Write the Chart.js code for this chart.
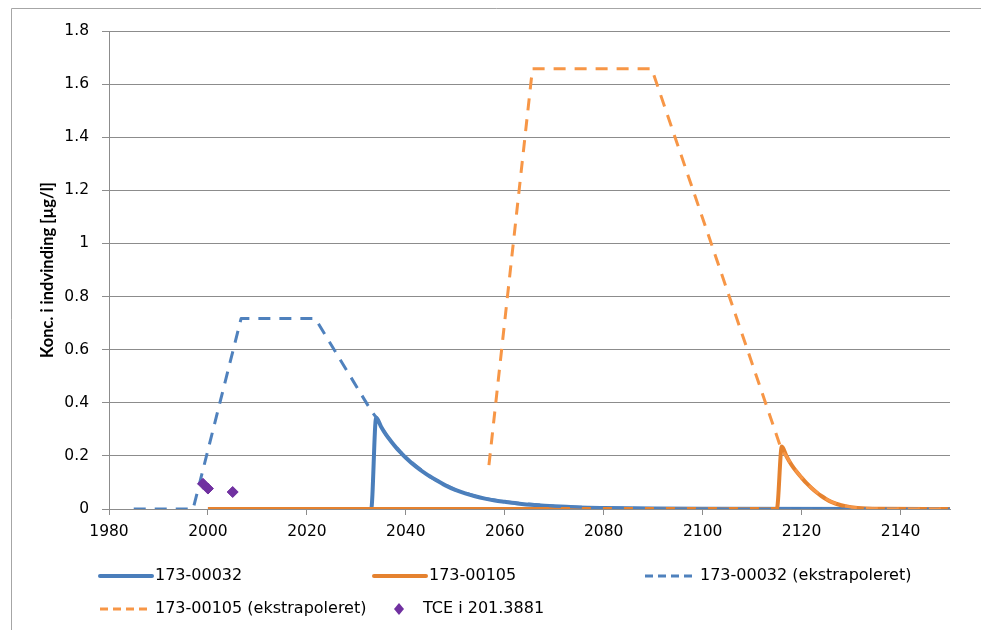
<!DOCTYPE html>
<html>
<head>
<meta charset="utf-8">
<script src="https://cdn.jsdelivr.net/npm/chart.js@4.4.1/dist/chart.umd.min.js"></script>
<style>
  html, body { margin: 0; padding: 0; background: #fff; }
  #wrap { position: relative; width: 981px; height: 630px; }
</style>
</head>
<body>
<div id="wrap"><canvas id="konc" width="981" height="630"></canvas></div>
<script>
// 173-00032 (modelled)
const blueYears = [2000, 2033, 2034, 2035, 2036, 2037, 2038, 2039, 2040, 2042, 2044, 2046, 2048, 2050, 2052, 2054, 2056, 2058, 2060, 2063, 2066, 2070, 2075, 2080, 2090, 2100, 2150];
const blueValues = [0, 0, 0.345, 0.31, 0.28, 0.255, 0.232, 0.212, 0.193, 0.16, 0.133, 0.11, 0.089, 0.072, 0.059, 0.048, 0.039, 0.032, 0.027, 0.02, 0.015, 0.01, 0.006, 0.004, 0.0015, 0.0005, 0];

// 173-00105 (modelled)
const orangeYears = [2000, 2115, 2116, 2117, 2118, 2119, 2120, 2121, 2122, 2123, 2124, 2125, 2126, 2128, 2130, 2133, 2136, 2150];
const orangeValues = [0, 0, 0.235, 0.197, 0.165, 0.14, 0.118, 0.097, 0.079, 0.063, 0.049, 0.037, 0.027, 0.014, 0.007, 0.002, 0.0005, 0];

// 173-00032 (ekstrapoleret)
const blueExtYears = [1985, 1997, 2006.7, 2021.7, 2033, 2034, 2036, 2038, 2040, 2045, 2050, 2055, 2060, 2070, 2080, 2090, 2100, 2150];
const blueExtValues = [0, 0, 0.717, 0.717, 0.37, 0.345, 0.28, 0.232, 0.193, 0.12, 0.072, 0.043, 0.027, 0.01, 0.004, 0.0015, 0.0005, 0];

// 173-00105 (ekstrapoleret)
const orangeExtYears = [2056.8, 2065.6, 2089.7, 2116, 2117, 2118, 2120, 2122, 2124, 2126, 2128, 2130, 2133, 2136, 2150];
const orangeExtValues = [0.165, 1.658, 1.658, 0.22, 0.197, 0.165, 0.118, 0.079, 0.049, 0.027, 0.014, 0.007, 0.002, 0.0005, 0];

// TCE i 201.3881 (measured)
const tceYears = [1999, 2000, 2005];
const tceValues = [0.095, 0.077, 0.064];

const labels = ["173-00032", "173-00105", "173-00032 (ekstrapoleret)", "173-00105 (ekstrapoleret)", "TCE i 201.3881"];
const xTicks = [1980, 2000, 2020, 2040, 2060, 2080, 2100, 2120, 2140];
const yTicks = [0, 0.2, 0.4, 0.6, 0.8, 1, 1.2, 1.4, 1.6, 1.8];

const toPoints = (xs, ys) => xs.map((x, i) => ({ x: x, y: ys[i] }));

// legend drawn in fixed columns like the original
const legendSlots = [
    { x: 98, y: 576 }, { x: 372, y: 576 }, { x: 643, y: 576 },
    { x: 98, y: 609 }, { x: 372, y: 609 }
];

const framePlugin = {
    id: "frame",
    beforeDraw(chart) {
        const ctx = chart.ctx;
        ctx.save();
        ctx.strokeStyle = "#a6a6a6";
        ctx.lineWidth = 1;
        ctx.beginPath();
        ctx.moveTo(11.5, 640);
        ctx.lineTo(11.5, 8.5);
        ctx.lineTo(990, 8.5);
        ctx.stroke();
        ctx.restore();
    }
};

const legendPlugin = {
    id: "fixedLegend",
    afterDraw(chart) {
        const ctx = chart.ctx;
        ctx.save();
        ctx.font = "16px 'DejaVu Sans'";
        ctx.textBaseline = "middle";
        chart.data.datasets.forEach((ds, i) => {
            const s = legendSlots[i];
            if (ds.showLine === false) {
                ctx.fillStyle = ds.pointBackgroundColor;
                ctx.beginPath();
                ctx.moveTo(s.x + 27, s.y - 6);
                ctx.lineTo(s.x + 32, s.y);
                ctx.lineTo(s.x + 27, s.y + 6);
                ctx.lineTo(s.x + 22, s.y);
                ctx.closePath();
                ctx.fill();
                ctx.fillStyle = "#000";
                ctx.fillText(ds.label, s.x + 51, s.y);
            } else {
                ctx.strokeStyle = ds.borderColor;
                ctx.lineWidth = ds.borderWidth;
                ctx.setLineDash(ds.borderDash ? [8, 5] : []);
                ctx.lineCap = ds.borderDash ? "butt" : "round";
                ctx.beginPath();
                ctx.moveTo(s.x + 2, s.y);
                ctx.lineTo(s.x + 54, s.y);
                ctx.stroke();
                ctx.setLineDash([]);
                ctx.fillStyle = "#000";
                ctx.fillText(ds.label, s.x + 57, s.y);
            }
        });
        ctx.restore();
    }
};

new Chart(document.getElementById("konc"), {
    type: "line",
    data: {
        datasets: [
            {
                label: labels[0],
                data: toPoints(blueYears, blueValues),
                borderColor: "#4a7ebb",
                borderWidth: 4,
                pointRadius: 0,
                cubicInterpolationMode: "monotone",
                order: 4
            },
            {
                label: labels[1],
                data: toPoints(orangeYears, orangeValues),
                borderColor: "#e5822f",
                borderWidth: 4,
                pointRadius: 0,
                cubicInterpolationMode: "monotone",
                order: 3
            },
            {
                label: labels[2],
                data: toPoints(blueExtYears, blueExtValues),
                borderColor: "#4f81bd",
                borderWidth: 3,
                borderDash: [12, 9],
                pointRadius: 0,
                order: 2
            },
            {
                label: labels[3],
                data: toPoints(orangeExtYears, orangeExtValues),
                borderColor: "#f79646",
                borderWidth: 3,
                borderDash: [12, 9],
                pointRadius: 0,
                order: 1
            },
            {
                label: labels[4],
                data: toPoints(tceYears, tceValues),
                showLine: false,
                pointStyle: "rectRot",
                pointRadius: 5.5,
                pointBackgroundColor: "#7030a0",
                pointBorderColor: "#7030a0",
                borderColor: "#7030a0",
                order: 0
            }
        ]
    },
    options: {
        responsive: false,
        animation: false,
        events: [],
        layout: {
            padding: { left: 12, top: 31, right: 31, bottom: 81 }
        },
        elements: {
            line: { tension: 0, borderCapStyle: "butt", borderJoinStyle: "round" }
        },
        scales: {
            x: {
                type: "linear",
                min: 1980,
                max: 2150,
                afterBuildTicks: scale => {
                    scale.ticks = xTicks.map(v => ({ value: v }));
                },
                afterFit: scale => { scale.height = 40; },
                ticks: {
                    color: "#000",
                    padding: 8,
                    maxRotation: 0,
                    autoSkip: false,
                    font: { family: "'DejaVu Sans'", size: 15.5 },
                    callback: v => String(Math.round(v))
                },
                grid: {
                    drawOnChartArea: false,
                    color: "#8c8c8c",
                    tickLength: 6
                },
                border: { color: "#8c8c8c", width: 1 }
            },
            y: {
                min: 0,
                max: 1.8,
                afterBuildTicks: scale => {
                    scale.ticks = yTicks.map(v => ({ value: v }));
                },
                afterFit: scale => { scale.width = 97; },
                ticks: {
                    color: "#000",
                    padding: 13,
                    autoSkip: false,
                    font: { family: "'DejaVu Sans'", size: 15.5 },
                    callback: v => String(+v.toFixed(1))
                },
                grid: {
                    color: "#8c8c8c",
                    lineWidth: 1,
                    tickLength: 7
                },
                border: { color: "#8c8c8c", width: 1 },
                title: {
                    display: true,
                    text: "Konc. i indvinding [µg/l]",
                    color: "#000",
                    font: { family: "Lato", size: 16.5, weight: "bold" },
                    padding: { top: 26 }
                }
            }
        },
        plugins: {
            legend: { display: false },
            tooltip: { enabled: false }
        }
    },
    plugins: [framePlugin, legendPlugin]
});
</script>
</body>
</html>
